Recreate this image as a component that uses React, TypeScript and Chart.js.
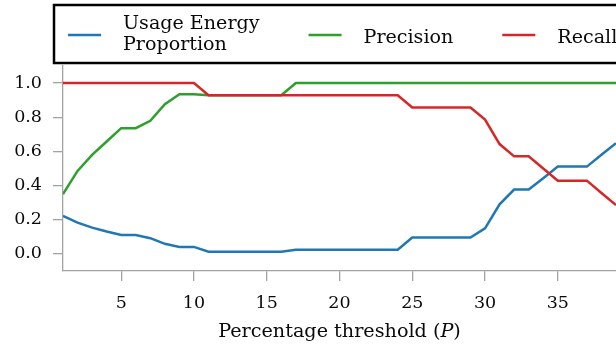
import React, { useEffect, useRef } from "react";
import { Chart, registerables } from "chart.js";

Chart.register(...registerables);

// Percentage threshold P on the x axis
const thresholds = [
  1, 2, 3, 4, 5, 6, 7, 8, 9, 10, 11, 12, 13, 14, 15, 16, 17, 18, 19, 20,
  21, 22, 23, 24, 25, 26, 27, 28, 29, 30, 31, 32, 33, 34, 35, 36, 37, 38, 39,
];

const usageEnergyProportion = [
  0.222, 0.183, 0.154, 0.131, 0.111, 0.111, 0.092, 0.059, 0.041, 0.041,
  0.013, 0.013, 0.013, 0.013, 0.013, 0.013,
  0.025, 0.025, 0.025, 0.025, 0.025, 0.025, 0.025, 0.025,
  0.096, 0.096, 0.096, 0.096, 0.096,
  0.15, 0.29, 0.377, 0.377, 0.443, 0.511, 0.511, 0.511, 0.58, 0.648,
];

const precision = [
  0.35, 0.486, 0.58, 0.658, 0.736, 0.736, 0.779, 0.877, 0.935, 0.935,
  0.929, 0.929, 0.929, 0.929, 0.929, 0.929,
  1, 1, 1, 1, 1, 1, 1, 1, 1, 1, 1, 1, 1, 1, 1, 1, 1, 1, 1, 1, 1, 1, 1,
];

const recall = [
  1, 1, 1, 1, 1, 1, 1, 1, 1, 1,
  0.929, 0.929, 0.929, 0.929, 0.929, 0.929, 0.929, 0.929, 0.929, 0.929, 0.929, 0.929, 0.929, 0.929,
  0.857, 0.857, 0.857, 0.857, 0.857,
  0.786, 0.643, 0.571, 0.571, 0.5, 0.429, 0.429, 0.429, 0.357, 0.286,
];

const seriesLabels = ["Usage Energy\nProportion", "Precision", "Recall"];
const xTickValues = [5, 10, 15, 20, 25, 30, 35];
const yTickValues = [0, 0.2, 0.4, 0.6, 0.8, 1.0];
const xAxisTitle = ["Percentage threshold (", "P", ")"];

const FONT = "'DejaVu Serif', serif";
const AXIS_GREY = "#a3a3a3";
const COLORS = ["#1f77b4", "#2ca02c", "#d62728"];

// Framed legend across the top and the x-axis title with an italic P
const overlayPlugin = {
  id: "overlay",
  afterDraw(chart: any) {
    const ctx: CanvasRenderingContext2D = chart.ctx;
    const area = chart.chartArea;
    ctx.save();

    // axis title
    const tSize = 19.2;
    const fonts = [`${tSize}px ${FONT}`, `italic ${tSize}px ${FONT}`, `${tSize}px ${FONT}`];
    let total = 0;
    const widths = xAxisTitle.map((t, i) => {
      ctx.font = fonts[i];
      const w = ctx.measureText(t).width;
      total += w;
      return w;
    });
    let tx = (area.left + area.right) / 2 - total / 2;
    ctx.fillStyle = "#0a0a0a";
    ctx.textBaseline = "alphabetic";
    ctx.textAlign = "left";
    xAxisTitle.forEach((t, i) => {
      ctx.font = fonts[i];
      ctx.fillText(t, tx, 337);
      tx += widths[i];
    });

    // legend frame
    const boxLeft = 54;
    const boxTop = 5;
    const boxBottom = 63;
    ctx.fillStyle = "#fff";
    ctx.fillRect(boxLeft, boxTop, chart.width + 20 - boxLeft, boxBottom - boxTop);
    ctx.strokeStyle = "#000";
    ctx.lineWidth = 2.5;
    ctx.strokeRect(boxLeft, boxTop, chart.width + 20 - boxLeft, boxBottom - boxTop);

    // legend entries
    const lSize = 19.1;
    ctx.font = `${lSize}px ${FONT}`;
    const midY = 35;
    let x = boxLeft + 14;
    chart.data.datasets.forEach((ds: any) => {
      ctx.strokeStyle = ds.borderColor;
      ctx.lineWidth = 2.5;
      ctx.beginPath();
      ctx.moveTo(x, midY);
      ctx.lineTo(x + 33, midY);
      ctx.stroke();
      const textX = x + 55;
      const lines = String(ds.label).split("\n");
      ctx.fillStyle = "#0a0a0a";
      let maxW = 0;
      if (lines.length === 1) {
        ctx.fillText(lines[0], textX, 42.5);
        maxW = ctx.measureText(lines[0]).width;
      } else {
        lines.forEach((ln, i) => {
          ctx.fillText(ln, textX, 28.5 + i * 21.5);
          maxW = Math.max(maxW, ctx.measureText(ln).width);
        });
      }
      x = textX + maxW + 49;
    });

    ctx.restore();
  },
};

export default function App() {
  const canvasRef = useRef<HTMLCanvasElement | null>(null);

  useEffect(() => {
    const canvas = canvasRef.current;
    if (!canvas) return;
    const series = [usageEnergyProportion, precision, recall];
    const chart = new Chart(canvas, {
      type: "line",
      data: {
        labels: thresholds,
        datasets: series.map((values, i) => ({
          label: seriesLabels[i],
          data: thresholds.map((t, j) => ({ x: t, y: values[j] })),
          borderColor: COLORS[i],
          backgroundColor: COLORS[i],
          borderWidth: 2.5,
          pointRadius: 0,
          tension: 0,
          fill: false,
          order: 2 - i,
        })),
      },
      options: {
        animation: false,
        responsive: true,
        maintainAspectRatio: false,
        devicePixelRatio: 1,
        layout: { padding: { top: 66, right: 0, left: 0, bottom: 0 } },
        plugins: {
          legend: { display: false },
          tooltip: { enabled: false },
          title: { display: false },
        },
        scales: {
          x: {
            type: "linear",
            min: 1,
            max: 39,
            afterBuildTicks: (s: any) => {
              s.ticks = xTickValues.map((v) => ({ value: v }));
            },
            afterFit: (s: any) => {
              s.height = 77;
            },
            grid: {
              drawOnChartArea: false,
              drawTicks: true,
              tickLength: 10,
              color: AXIS_GREY,
              lineWidth: 1.3,
            },
            border: { display: true, color: AXIS_GREY, width: 1.3 },
            ticks: {
              font: { family: FONT, size: 17.5 },
              color: "#0a0a0a",
              padding: 12,
              maxRotation: 0,
              autoSkip: false,
            },
          },
          y: {
            type: "linear",
            min: -0.1,
            max: 1.1,
            afterBuildTicks: (s: any) => {
              s.ticks = yTickValues.map((v) => ({ value: v }));
            },
            afterFit: (s: any) => {
              s.width = 63;
            },
            grid: {
              drawOnChartArea: false,
              drawTicks: true,
              tickLength: 10,
              color: AXIS_GREY,
              lineWidth: 1.3,
            },
            border: { display: true, color: AXIS_GREY, width: 1.3 },
            ticks: {
              font: { family: FONT, size: 17.5 },
              color: "#0a0a0a",
              padding: 11,
              autoSkip: false,
              callback: (v: any) => Number(v).toFixed(1),
            },
          },
        },
      },
      plugins: [overlayPlugin],
    });
    return () => chart.destroy();
  }, []);

  return (
    <div
      style={{
        position: "absolute",
        left: 0,
        top: 0,
        width: 616,
        height: 348,
        background: "#fff",
        overflow: "hidden",
      }}
    >
      <canvas ref={canvasRef} />
    </div>
  );
}
